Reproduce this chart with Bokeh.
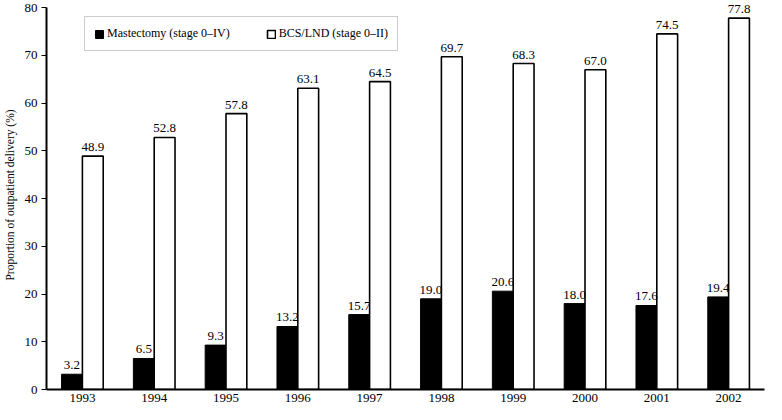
from bokeh.plotting import figure
from bokeh.models import ColumnDataSource, FactorRange, Range1d, FixedTicker, Legend, LegendItem
from bokeh.transform import dodge
from bokeh.core.properties import value
from bokeh.embed import file_html
from bokeh.resources import INLINE

years = ["1993", "1994", "1995", "1996", "1997", "1998", "1999", "2000", "2001", "2002"]
mastectomy = [3.2, 6.5, 9.3, 13.2, 15.7, 19.0, 20.6, 18.0, 17.6, 19.4]
bcs_lnd = [48.9, 52.8, 57.8, 63.1, 64.5, 69.7, 68.3, 67.0, 74.5, 77.8]
y_ticks = [0, 10, 20, 30, 40, 50, 60, 70, 80]
series_names = ["Mastectomy (stage 0\u2013IV)", "BCS/LND (stage 0\u2013II)"]
y_title = "Proportion of outpatient delivery (%)"

FONT = "Liberation Serif"

src = ColumnDataSource(dict(
    year=years,
    mast=mastectomy,
    bcs=bcs_lnd,
    mast_lbl=[f"{v:.1f}" for v in mastectomy],
    bcs_lbl=[f"{v:.1f}" for v in bcs_lnd],
))

p = figure(x_range=FactorRange(*years), y_range=Range1d(0, 81.5),
           width=766, height=404, output_backend="svg", toolbar_location=None,
           min_border_left=38, min_border_right=2, min_border_top=0, min_border_bottom=10)
p.x_range.range_padding = 0

bw = 0.29
r1 = p.vbar(x=dodge("year", -bw / 2, range=p.x_range), top="mast", width=bw, source=src,
            fill_color="black", line_color="black", line_width=1)
r2 = p.vbar(x=dodge("year", bw / 2, range=p.x_range), top="bcs", width=bw, source=src,
            fill_color="white", line_color="black", line_width=1.6)

for col, lbl, off in (("mast", "mast_lbl", -bw / 2), ("bcs", "bcs_lbl", bw / 2)):
    p.text(x=dodge("year", off, range=p.x_range), y=col, text=lbl, source=src,
           text_align="center", text_baseline="bottom", y_offset=-5,
           text_font=value(FONT), text_font_size="13px", text_color="black")

p.xgrid.grid_line_color = None
p.ygrid.grid_line_color = None
p.outline_line_color = None
p.background_fill_color = "white"

xa = p.xaxis[0]
xa.axis_label = None
xa.axis_label_standoff = 0
xa.major_tick_line_color = None
xa.major_tick_out = 0
xa.minor_tick_line_color = None
xa.axis_line_width = 2
xa.axis_line_color = "black"
xa.major_label_text_font = FONT
xa.major_label_text_font_size = "13px"
xa.major_label_text_color = "black"
xa.major_label_standoff = 4

ya = p.yaxis[0]
ya.ticker = FixedTicker(ticks=y_ticks)
ya.bounds = (0, 80)
ya.minor_tick_line_color = None
ya.major_tick_in = 0
ya.major_tick_out = 5
ya.major_tick_line_color = "black"
ya.axis_line_width = 2
ya.axis_line_color = "black"
ya.major_label_text_font = FONT
ya.major_label_text_font_size = "13px"
ya.major_label_text_color = "black"
ya.major_label_standoff = 4
ya.axis_label = y_title
ya.axis_label_text_font = FONT
ya.axis_label_text_font_size = "11.5px"
ya.axis_label_text_font_style = "normal"
ya.axis_label_text_color = "black"
ya.axis_label_standoff = 6

legend = Legend(items=[LegendItem(label=series_names[0], renderers=[r1]),
                       LegendItem(label=series_names[1], renderers=[r2])],
                orientation="horizontal", location=(38, 338),
                glyph_width=10, glyph_height=10, label_standoff=3, spacing=36,
                padding=9, margin=0, label_height=15,
                border_line_color="#9a9a9a", border_line_width=1,
                label_text_font=FONT, label_text_font_size="12px", label_text_color="black",
                background_fill_color="white", background_fill_alpha=1)
p.add_layout(legend)

open("out.html", "w").write(file_html(p, INLINE))
